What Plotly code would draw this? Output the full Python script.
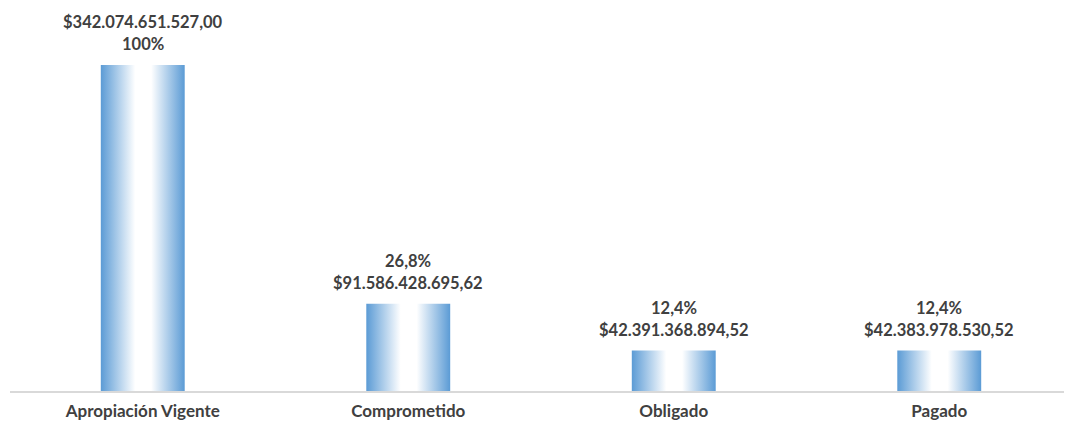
import plotly.graph_objects as go

categories = ["Apropiación Vigente", "Comprometido", "Obligado", "Pagado"]
values = [342074651527.00, 91586428695.62, 42391368894.52, 42383978530.52]
pct_labels = ["100%", "26,8%", "12,4%", "12,4%"]
value_labels = ["$342.074.651.527,00", "$91.586.428.695,62", "$42.391.368.894,52", "$42.383.978.530,52"]

BAR_HALF = 0.158
BLUE = "#5B9BD5"
TXT = "#404040"
FONT = "Lato"

fig = go.Figure()
for i, (cat, v) in enumerate(zip(categories, values)):
    fig.add_trace(go.Scatter(
        x=[i - BAR_HALF, i - BAR_HALF, i + BAR_HALF, i + BAR_HALF, i - BAR_HALF],
        y=[0, v, v, 0, 0],
        mode="lines", line=dict(width=0), fill="toself",
        fillgradient=dict(type="horizontal",
                          colorscale=[[0, BLUE], [0.41, "#FFFFFF"], [0.6, "#FFFFFF"], [1, BLUE]]),
        hoverinfo="skip", showlegend=False,
    ))
    if i == 0:
        top, bottom = value_labels[i], pct_labels[i]
    else:
        top, bottom = pct_labels[i], value_labels[i]
    fig.add_annotation(x=i, y=v, text=f"<b>{bottom}</b>", showarrow=False,
                       yanchor="bottom", yshift=9, font=dict(family=FONT, size=16.5, color=TXT))
    fig.add_annotation(x=i, y=v, text=f"<b>{top}</b>", showarrow=False,
                       yanchor="bottom", yshift=31, font=dict(family=FONT, size=16.5, color=TXT))

fig.update_layout(
    width=1072, height=425,
    margin=dict(l=2, r=8, t=10, b=42),
    plot_bgcolor="white", paper_bgcolor="white",
    xaxis=dict(range=[-0.5, 3.5], tickmode="array", tickvals=list(range(len(categories))),
               ticktext=[f"<b>{c}</b>" for c in categories], showgrid=False, zeroline=False,
               showline=True, linecolor="#D9D9D9", linewidth=2, ticks="", ticklabelstandoff=4,
               tickfont=dict(family=FONT, size=17, color=TXT), fixedrange=True),
    yaxis=dict(range=[0, 391.4e9], visible=False, showgrid=False, zeroline=False),
)

fig.write_html("out.html")
